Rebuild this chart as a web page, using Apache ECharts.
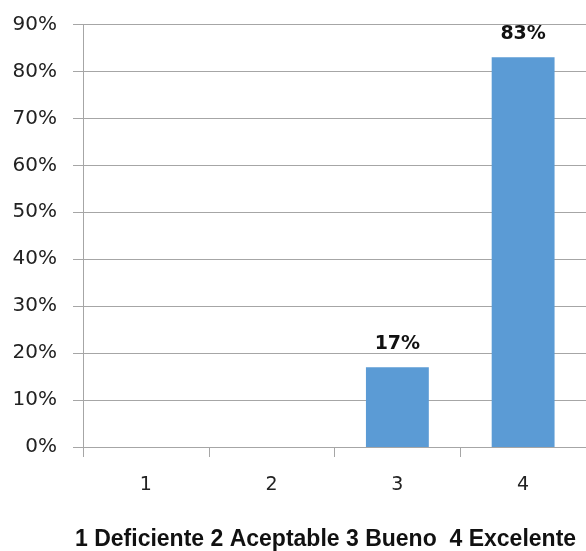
<!DOCTYPE html>
<html>
<head>
<meta charset="utf-8">
<script src="https://cdn.jsdelivr.net/npm/echarts@6/dist/echarts.min.js"></script>
<style>html,body{margin:0;padding:0;background:#fff}#c{width:586px;height:551px}</style>
</head>
<body>
<div id="c"></div>
<script>
var categories = ['1', '2', '3', '4'];
var values = [0, 0, 17, 83];
var barLabels = ['', '', '17%', '83%'];
var yTicks = [0, 10, 20, 30, 40, 50, 60, 70, 80, 90];
var titleText = '1 Deficiente 2 Aceptable 3 Bueno  4 Excelente';

var chart = echarts.init(document.getElementById('c'), null, {renderer: 'canvas'});
var gray = '#A6A6A6';
chart.setOption({
  animation: false,
  title: {
    text: titleText,
    left: 70, top: 523,
    textStyle: {fontFamily: 'Liberation Sans', fontWeight: 'bold', fontSize: 23, color: '#111'}
  },
  grid: {left: 83, right: 0, top: 24.5, bottom: 104, containLabel: false},
  xAxis: {
    type: 'category',
    data: categories,
    boundaryGap: true,
    axisLine: {show: true, lineStyle: {color: gray, width: 1}},
    axisTick: {show: true, length: 10, lineStyle: {color: gray}},
    axisLabel: {margin: 29, fontFamily: 'DejaVu Sans', fontSize: 19, color: '#222'}
  },
  yAxis: {
    type: 'value',
    min: yTicks[0], max: yTicks[yTicks.length - 1], interval: 10,
    axisLine: {show: true, lineStyle: {color: gray, width: 1}},
    axisTick: {show: true, length: 10, lineStyle: {color: gray}},
    splitLine: {show: true, lineStyle: {color: gray, width: 1}},
    axisLabel: {margin: 26, fontFamily: 'DejaVu Sans', fontSize: 20, color: '#222', formatter: '{value}%'}
  },
  series: [{
    type: 'bar',
    data: values,
    barWidth: '50%',
    itemStyle: {color: '#5B9BD5'},
    label: {
      show: true, position: 'top', distance: 14,
      fontFamily: 'DejaVu Sans', fontWeight: 'bold', fontSize: 19, color: '#111',
      formatter: function (p) { return barLabels[p.dataIndex]; }
    }
  }]
});
</script>
</body>
</html>
